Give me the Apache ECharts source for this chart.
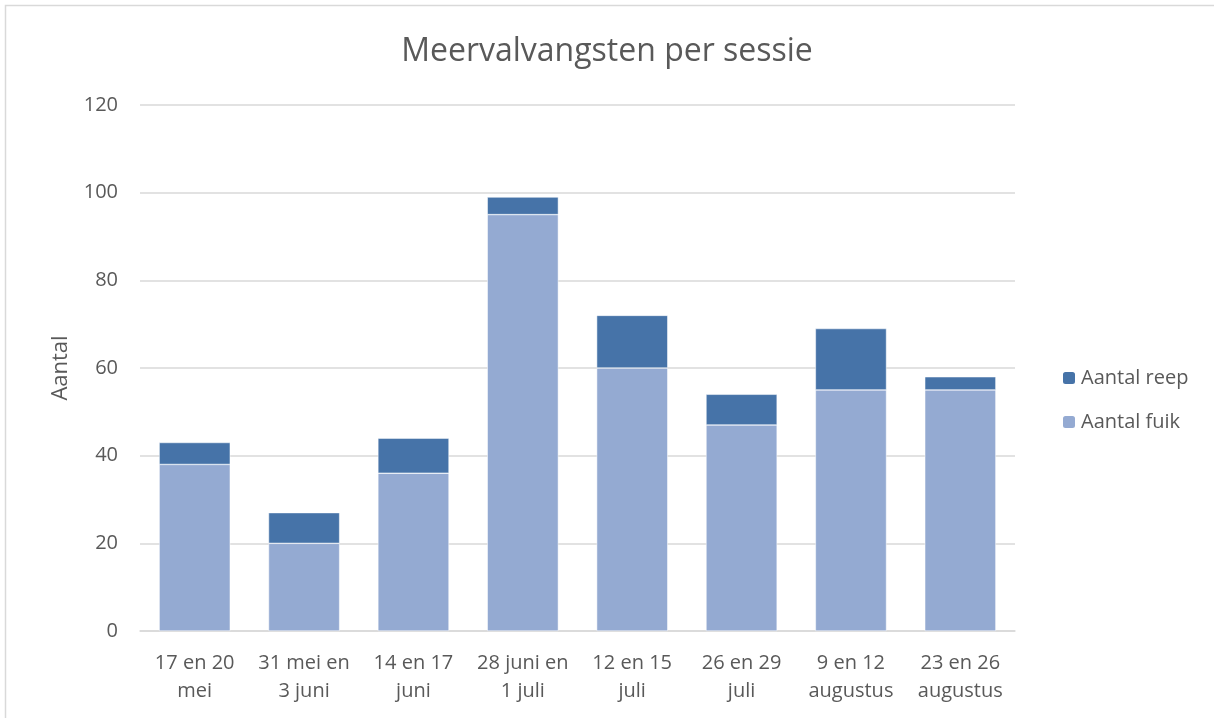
<!DOCTYPE html>
<html>
<head>
<meta charset="utf-8">
<script src="https://cdn.jsdelivr.net/npm/echarts@6/dist/echarts.min.js"></script>
<style>
  html, body { margin: 0; padding: 0; background: #fff; }
  #chart { width: 1214px; height: 718px; }
</style>
</head>
<body>
<div id="chart"></div>
<script>
// sessies (x-as)
const categories = [
  '17 en 20\nmei', '31 mei en\n3 juni', '14 en 17\njuni', '28 juni en\n1 juli',
  '12 en 15\njuli', '26 en 29\njuli', '9 en 12\naugustus', '23 en 26\naugustus',
];
const aantalFuik = [38, 20, 36, 95, 60, 47, 55, 55];
const aantalReep = [5, 7, 8, 4, 12, 7, 14, 3];
const yTicks = [0, 20, 40, 60, 80, 100, 120];

const textColor = '#595959';
const font = 'Open Sans';

const chart = echarts.init(document.getElementById('chart'));
chart.setOption({
  animation: false,
  textStyle: { fontFamily: font },
  title: {
    text: 'Meervalvangsten per sessie',
    left: 'center',
    top: 31,
    textStyle: { fontSize: 32, fontWeight: 'normal', color: textColor, fontFamily: font },
  },
  graphic: [{
    type: 'rect',
    shape: { x: 5.5, y: 5.5, width: 1400, height: 900 },
    style: { fill: 'none', stroke: '#d9d9d9', lineWidth: 1.5 },
    silent: true,
  }],
  legend: {
    orient: 'vertical',
    left: 1056,
    top: 363,
    itemWidth: 14,
    itemHeight: 14,
    itemGap: 24,
    data: ['Aantal reep', 'Aantal fuik'],
    textStyle: { fontSize: 20, color: textColor, fontFamily: font },
  },
  grid: { left: 140, right: 199, top: 105, bottom: 87 },
  xAxis: {
    type: 'category',
    data: categories,
    axisTick: { show: false },
    axisLine: { lineStyle: { color: '#d9d9d9', width: 1.5 } },
    axisLabel: {
      interval: 0,
      fontSize: 20,
      color: textColor,
      lineHeight: 28,
      margin: 18,
    },
  },
  yAxis: {
    type: 'value',
    min: yTicks[0],
    max: yTicks[yTicks.length - 1],
    interval: 20,
    name: 'Aantal',
    nameLocation: 'middle',
    nameGap: 68,
    nameTextStyle: { fontSize: 22, color: textColor, fontFamily: font },
    axisLine: { show: false },
    axisTick: { show: false },
    splitLine: { lineStyle: { color: '#d9d9d9', width: 1.5 } },
    axisLabel: { fontSize: 20, color: textColor, margin: 22 },
  },
  series: [
    {
      name: 'Aantal fuik',
      type: 'bar',
      stack: 'totaal',
      data: aantalFuik,
      barCategoryGap: '35%',
      itemStyle: { color: '#94aad2', borderColor: '#ffffff', borderWidth: 0.5 },
    },
    {
      name: 'Aantal reep',
      type: 'bar',
      stack: 'totaal',
      data: aantalReep,
      barCategoryGap: '35%',
      itemStyle: { color: '#4673a8', borderColor: '#ffffff', borderWidth: 0.5 },
    },
  ],
});
</script>
</body>
</html>
